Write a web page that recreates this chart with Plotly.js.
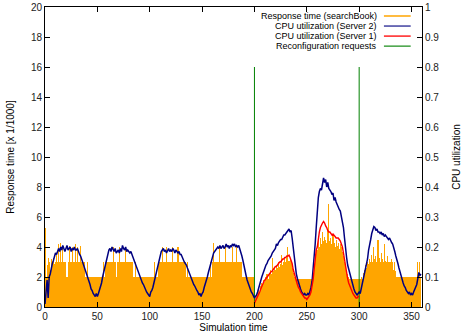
<!DOCTYPE html>
<html>
<head>
<meta charset="utf-8">
<script src="https://cdn.plot.ly/plotly-3.0.1.min.js"></script>
<style>
html,body{margin:0;padding:0;background:#fff;}
#chart{width:465px;height:335px;}
</style>
</head>
<body>
<div id="chart"></div>
<script>
// Response time (searchBook) [x 1/1000], one value per simulation time unit (t = 0..359)
const responseTime = [
5.3,2.0,2.8,3.3,3.0,2.5,3.2,3.0,3.3,2.9,
3.0,3.5,3.0,4.2,3.0,4.3,3.0,4.0,3.0,3.0,
3.0,2.0,3.0,4.1,3.0,3.0,4.0,3.0,3.0,4.2,
3.0,4.0,3.0,3.0,4.1,3.0,3.0,3.0,3.0,2.0,
2.0,3.0,2.0,2.0,2.0,2.0,2.0,2.0,2.0,2.0,
2.0,2.0,2.0,2.0,2.0,2.0,3.0,2.0,3.0,3.0,
3.0,3.0,3.0,3.0,3.0,4.0,3.0,3.0,2.0,3.0,
3.0,4.0,3.0,3.0,3.0,3.0,3.0,4.0,3.0,3.0,
3.0,3.0,3.0,3.0,3.0,2.0,3.0,2.0,2.0,2.0,
2.0,2.0,2.0,2.0,2.0,2.0,2.0,2.0,2.0,2.0,
2.0,2.0,2.0,2.0,2.0,3.0,2.0,2.0,3.0,3.0,
3.0,3.0,4.0,3.0,3.0,3.0,4.0,3.0,3.0,3.0,
3.0,3.0,4.0,3.0,3.0,3.0,3.0,4.0,3.0,3.0,
3.0,3.0,3.0,3.0,3.0,2.0,3.0,2.0,2.0,2.0,
2.0,2.0,2.0,2.0,2.0,2.0,2.0,2.0,2.0,2.0,
2.0,2.0,2.0,2.0,2.0,2.0,2.0,2.0,3.0,2.0,
3.0,4.3,3.0,3.0,3.0,3.0,3.0,4.0,3.0,3.0,
3.0,3.0,4.0,3.0,3.0,3.0,3.0,3.0,3.0,4.0,
3.0,3.0,3.0,4.0,3.0,3.0,3.0,3.0,3.0,2.0,
2.0,2.0,2.0,2.0,2.0,2.0,2.0,2.0,2.0,2.0,
0.4,0.6,0.8,1.0,1.2,1.0,1.4,1.6,1.5,1.8,
1.7,2.0,2.2,1.9,2.3,2.5,2.2,3.3,2.4,2.6,
2.5,2.8,2.6,3.0,2.7,2.9,3.5,2.8,3.0,3.2,
3.0,3.3,4.0,3.1,3.2,3.0,2.6,2.3,2.0,1.9,
1.85,1.85,1.85,1.85,1.85,1.85,1.85,1.85,1.85,1.85,
1.85,1.85,1.85,1.85,1.85,1.9,2.2,2.8,3.5,3.8,
3.8,4.5,4.0,4.6,4.2,5.0,4.4,4.7,4.5,4.3,
5.2,6.9,4.4,4.6,4.2,4.8,4.3,4.0,4.5,4.1,
4.3,3.9,4.2,4.0,3.7,3.4,3.0,2.8,2.4,2.2,
2.0,1.9,1.9,1.9,1.9,1.9,1.9,1.9,1.9,1.9,
1.9,1.9,2.0,1.9,2.3,2.5,2.8,2.6,3.0,2.9,
3.2,3.0,3.5,3.0,4.0,3.2,3.4,3.0,4.5,3.3,
3.0,3.6,3.2,3.0,4.2,3.1,3.0,3.4,3.0,3.0,
3.0,3.2,3.0,2.5,3.0,2.4,2.0,2.0,2.0,2.0,
2.0,2.0,2.0,2.0,2.0,2.0,2.0,2.0,2.0,2.0,
2.0,2.0,2.0,2.0,2.0,2.0,3.0,2.0,3.0,2.0
];

// CPU utilization (Server 2), one value per time unit (t = 0..359)
const cpuServer2 = [
0.010,0.060,0.090,0.030,0.100,0.110,0.130,0.145,0.155,0.165,
0.180,0.175,0.190,0.195,0.185,0.200,0.190,0.205,0.195,0.185,
0.195,0.205,0.190,0.195,0.200,0.185,0.195,0.190,0.200,0.190,
0.190,0.195,0.180,0.175,0.170,0.160,0.150,0.140,0.130,0.120,
0.105,0.095,0.085,0.075,0.060,0.055,0.045,0.040,0.035,0.045,
0.035,0.045,0.055,0.065,0.080,0.100,0.115,0.135,0.150,0.170,
0.180,0.190,0.195,0.185,0.200,0.190,0.185,0.195,0.180,0.185,
0.190,0.180,0.195,0.185,0.205,0.195,0.190,0.200,0.185,0.190,
0.185,0.180,0.185,0.175,0.165,0.160,0.150,0.140,0.130,0.115,
0.105,0.100,0.090,0.080,0.075,0.065,0.060,0.050,0.045,0.040,
0.035,0.050,0.055,0.065,0.080,0.095,0.110,0.130,0.145,0.160,
0.175,0.185,0.190,0.195,0.185,0.190,0.180,0.190,0.195,0.185,
0.190,0.185,0.195,0.190,0.180,0.190,0.185,0.180,0.185,0.175,
0.175,0.165,0.160,0.150,0.145,0.140,0.130,0.120,0.115,0.105,
0.095,0.085,0.075,0.070,0.060,0.055,0.050,0.040,0.045,0.035,
0.045,0.050,0.065,0.075,0.085,0.100,0.115,0.130,0.145,0.155,
0.170,0.180,0.185,0.190,0.195,0.200,0.195,0.205,0.195,0.200,
0.205,0.195,0.200,0.210,0.200,0.205,0.195,0.205,0.200,0.210,
0.205,0.210,0.200,0.205,0.200,0.205,0.195,0.185,0.170,0.155,
0.135,0.120,0.105,0.090,0.080,0.070,0.055,0.050,0.045,0.035,
0.030,0.035,0.040,0.050,0.065,0.075,0.090,0.100,0.110,0.125,
0.130,0.140,0.145,0.155,0.160,0.165,0.170,0.180,0.185,0.190,
0.195,0.210,0.205,0.215,0.220,0.225,0.225,0.235,0.240,0.240,
0.245,0.250,0.255,0.260,0.250,0.255,0.230,0.200,0.165,0.130,
0.110,0.095,0.080,0.070,0.060,0.050,0.045,0.040,0.045,0.040,
0.040,0.045,0.040,0.050,0.065,0.085,0.125,0.155,0.210,0.265,
0.325,0.365,0.385,0.395,0.390,0.405,0.430,0.415,0.425,0.400,
0.415,0.395,0.390,0.385,0.375,0.380,0.355,0.365,0.350,0.340,
0.335,0.325,0.320,0.300,0.285,0.265,0.230,0.190,0.165,0.140,
0.125,0.110,0.095,0.080,0.070,0.060,0.050,0.045,0.040,0.045,
0.050,0.045,0.060,0.075,0.090,0.105,0.120,0.135,0.160,0.190,
0.215,0.225,0.245,0.260,0.268,0.265,0.255,0.260,0.250,0.250,
0.245,0.250,0.240,0.245,0.235,0.240,0.235,0.230,0.225,0.230,
0.220,0.215,0.210,0.200,0.185,0.170,0.160,0.145,0.130,0.115,
0.105,0.090,0.080,0.070,0.065,0.055,0.050,0.045,0.050,0.040,
0.045,0.040,0.050,0.060,0.065,0.075,0.095,0.115,0.105,0.110
];

// CPU utilization (Server 1), from t = 200 to t = 300
const server1Start = 200;
const cpuServer1 = [
0.013,0.020,0.025,0.035,0.040,0.050,0.060,0.070,0.080,0.085,
0.090,0.095,0.100,0.105,0.110,0.115,0.118,0.120,0.125,0.130,
0.135,0.135,0.140,0.145,0.150,0.150,0.155,0.160,0.160,0.165,
0.165,0.170,0.170,0.173,0.165,0.155,0.145,0.125,0.110,0.100,
0.085,0.075,0.065,0.060,0.050,0.045,0.040,0.035,0.030,0.030,
0.025,0.030,0.035,0.040,0.050,0.065,0.090,0.125,0.160,0.190,
0.200,0.230,0.250,0.265,0.275,0.280,0.285,0.280,0.270,0.265,
0.255,0.250,0.250,0.245,0.240,0.243,0.240,0.235,0.230,0.230,
0.230,0.225,0.220,0.210,0.200,0.180,0.155,0.135,0.110,0.095,
0.080,0.070,0.060,0.050,0.045,0.040,0.035,0.030,0.030,0.035,
0.035
];

// Reconfiguration requests
const reconfigTimes = [200, 300];
const reconfigLevel = [16, 16];

const xTicks = [0, 50, 100, 150, 200, 250, 300, 350];
const yTicks = [0, 2, 4, 6, 8, 10, 12, 14, 16, 18, 20];
const y2Ticks = [0, 0.1, 0.2, 0.3, 0.4, 0.5, 0.6, 0.7, 0.8, 0.9, 1];
const y2TickText = ["0", "0.1", "0.2", "0.3", "0.4", "0.5", "0.6", "0.7", "0.8", "0.9", "1"];

const seriesNames = [
  "Response time (searchBook)",
  "CPU utilization (Server 2)",
  "CPU utilization (Server 1)",
  "Reconfiguration requests"
];
const colors = ["#FFA500", "#000080", "#FF0000", "#008000"];
const legendColors = ["#FFA500", "#4040A0", "#FF2020", "#40A040"];

const timeAll = responseTime.map((_, i) => i);
const time2 = cpuServer2.map((_, i) => i);
const time1 = cpuServer1.map((_, i) => server1Start + i);

const reconfX = [], reconfY = [];
reconfigTimes.forEach((t, i) => { reconfX.push(t, t, null); reconfY.push(0, reconfigLevel[i], null); });

const traces = [
  { type: "bar", x: timeAll, y: responseTime, width: 1, marker: { color: colors[0], line: { width: 0 } },
    name: seriesNames[0], yaxis: "y", hoverinfo: "skip" },
  { type: "scatter", mode: "lines", x: reconfX, y: reconfY, line: { color: colors[3], width: 1 },
    name: seriesNames[3], yaxis: "y", hoverinfo: "skip" },
  { type: "scatter", mode: "lines", x: time2, y: cpuServer2, line: { color: colors[1], width: 1.5 },
    name: seriesNames[1], yaxis: "y2", hoverinfo: "skip" },
  { type: "scatter", mode: "lines", x: time1, y: cpuServer1, line: { color: colors[2], width: 1.4 },
    name: seriesNames[2], yaxis: "y2", hoverinfo: "skip" }
];

const fontFam = "Liberation Sans, Arial, Helvetica, sans-serif";

// gnuplot-style key: text right-aligned, sample line to the right
const annotations = [], shapes = [];
const keyTop = 0.970, keyStep = 0.0335;
seriesNames.forEach((n, i) => {
  const yy = keyTop - i * keyStep;
  annotations.push({ xref: "paper", yref: "paper", x: 0.882, y: yy, xanchor: "right", yanchor: "middle",
    text: n, showarrow: false, borderpad: 0, font: { family: fontFam, size: 9, color: "#000" } });
  shapes.push({ type: "line", xref: "paper", yref: "paper", x0: 0.899, x1: 0.970, y0: yy, y1: yy,
    line: { color: legendColors[i], width: 1.5 } });
});

const layout = {
  width: 465, height: 335,
  margin: { l: 45, r: 43, t: 7, b: 28, pad: 0 },
  paper_bgcolor: "#fff", plot_bgcolor: "#fff",
  showlegend: false, bargap: 0,
  font: { family: fontFam, size: 10, color: "#000" },
  xaxis: {
    range: [0, 360], tickvals: xTicks, ticks: "inside", ticklen: 5, tickcolor: "#000",
    showline: true, linecolor: "#000", linewidth: 1, mirror: "ticks", showgrid: false, zeroline: false,
    tickfont: { family: fontFam, size: 10, color: "#222" },
    title: { text: "Simulation time", font: { family: fontFam, size: 10, color: "#000" }, standoff: 2 }
  },
  yaxis: {
    range: [0, 20], tickvals: yTicks, ticks: "inside", ticklen: 5, tickcolor: "#000",
    showline: true, linecolor: "#000", linewidth: 1, showgrid: false, zeroline: false,
    tickfont: { family: fontFam, size: 10, color: "#222" },
    title: { text: "Response time [x 1/1000]", font: { family: fontFam, size: 10, color: "#000" }, standoff: 14 }
  },
  yaxis2: {
    overlaying: "y", side: "right", range: [0, 1], tickvals: y2Ticks, ticktext: y2TickText,
    ticks: "inside", ticklen: 5, tickcolor: "#000",
    showline: true, linecolor: "#000", linewidth: 1, showgrid: false, zeroline: false,
    tickfont: { family: fontFam, size: 10, color: "#222" },
    title: { text: "CPU utilization", font: { family: fontFam, size: 10, color: "#000" }, standoff: 14 }
  },
  annotations: annotations,
  shapes: shapes
};

Plotly.newPlot("chart", traces, layout, { staticPlot: true, displayModeBar: false });
</script>
</body>
</html>
